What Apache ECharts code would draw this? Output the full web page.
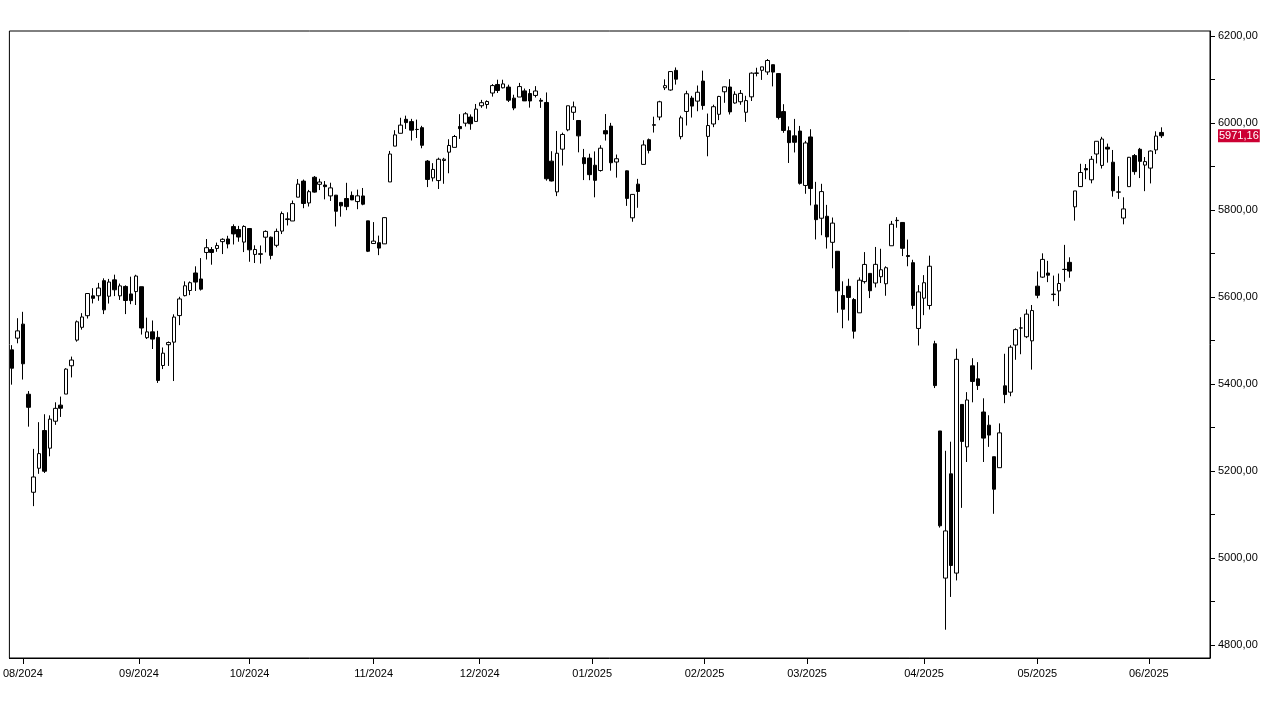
<!DOCTYPE html>
<html>
<head>
<meta charset="utf-8">
<script src="https://cdn.jsdelivr.net/npm/echarts@6/dist/echarts.min.js"></script>
<style>
html,body{margin:0;padding:0;background:#fff;}
#chart{width:1288px;height:708px;}
</style>
</head>
<body>
<div id="chart"></div>
<script>
// Trading-day slots (the source keeps an empty slot for 2025-01-09)
const dates = [
'2024-07-30','2024-07-31',
'2024-08-01','2024-08-02','2024-08-05','2024-08-06','2024-08-07','2024-08-08','2024-08-09','2024-08-12','2024-08-13','2024-08-14','2024-08-15','2024-08-16','2024-08-19','2024-08-20','2024-08-21','2024-08-22','2024-08-23','2024-08-26','2024-08-27','2024-08-28','2024-08-29','2024-08-30',
'2024-09-03','2024-09-04','2024-09-05','2024-09-06','2024-09-09','2024-09-10','2024-09-11','2024-09-12','2024-09-13','2024-09-16','2024-09-17','2024-09-18','2024-09-19','2024-09-20','2024-09-23','2024-09-24','2024-09-25','2024-09-26','2024-09-27','2024-09-30',
'2024-10-01','2024-10-02','2024-10-03','2024-10-04','2024-10-07','2024-10-08','2024-10-09','2024-10-10','2024-10-11','2024-10-14','2024-10-15','2024-10-16','2024-10-17','2024-10-18','2024-10-21','2024-10-22','2024-10-23','2024-10-24','2024-10-25','2024-10-28','2024-10-29','2024-10-30','2024-10-31',
'2024-11-01','2024-11-04','2024-11-05','2024-11-06','2024-11-07','2024-11-08','2024-11-11','2024-11-12','2024-11-13','2024-11-14','2024-11-15','2024-11-18','2024-11-19','2024-11-20','2024-11-21','2024-11-22','2024-11-25','2024-11-26','2024-11-27','2024-11-29',
'2024-12-02','2024-12-03','2024-12-04','2024-12-05','2024-12-06','2024-12-09','2024-12-10','2024-12-11','2024-12-12','2024-12-13','2024-12-16','2024-12-17','2024-12-18','2024-12-19','2024-12-20','2024-12-23','2024-12-24','2024-12-26','2024-12-27','2024-12-30','2024-12-31',
'2025-01-02','2025-01-03','2025-01-06','2025-01-07','2025-01-08','2025-01-09','2025-01-10','2025-01-13','2025-01-14','2025-01-15','2025-01-16','2025-01-17','2025-01-21','2025-01-22','2025-01-23','2025-01-24','2025-01-27','2025-01-28','2025-01-29','2025-01-30','2025-01-31',
'2025-02-03','2025-02-04','2025-02-05','2025-02-06','2025-02-07','2025-02-10','2025-02-11','2025-02-12','2025-02-13','2025-02-14','2025-02-18','2025-02-19','2025-02-20','2025-02-21','2025-02-24','2025-02-25','2025-02-26','2025-02-27','2025-02-28',
'2025-03-03','2025-03-04','2025-03-05','2025-03-06','2025-03-07','2025-03-10','2025-03-11','2025-03-12','2025-03-13','2025-03-14','2025-03-17','2025-03-18','2025-03-19','2025-03-20','2025-03-21','2025-03-24','2025-03-25','2025-03-26','2025-03-27','2025-03-28','2025-03-31',
'2025-04-01','2025-04-02','2025-04-03','2025-04-04','2025-04-07','2025-04-08','2025-04-09','2025-04-10','2025-04-11','2025-04-14','2025-04-15','2025-04-16','2025-04-17','2025-04-21','2025-04-22','2025-04-23','2025-04-24','2025-04-25','2025-04-28','2025-04-29','2025-04-30',
'2025-05-01','2025-05-02','2025-05-05','2025-05-06','2025-05-07','2025-05-08','2025-05-09','2025-05-12','2025-05-13','2025-05-14','2025-05-15','2025-05-16','2025-05-19','2025-05-20','2025-05-21','2025-05-22','2025-05-23','2025-05-27','2025-05-28','2025-05-29','2025-05-30',
'2025-06-02','2025-06-03','2025-06-04'
];

// [open, high, low, close] per slot, null = empty slot
const ohlc = [
[5478.73,5489.46,5398.63,5436.44],[5505.59,5551.51,5493.75,5522.30],
// Aug 2024
[5537.84,5566.16,5410.42,5446.68],[5376.63,5383.89,5302.03,5346.56],[5151.14,5250.89,5119.26,5186.33],[5206.42,5312.34,5193.56,5240.03],
[5293.13,5330.64,5195.54,5199.50],[5252.57,5328.03,5233.85,5319.31],[5314.56,5358.09,5306.20,5344.16],[5351.56,5371.20,5324.37,5344.39],
[5376.98,5436.50,5376.98,5434.43],[5442.07,5463.22,5415.30,5455.21],[5501.13,5546.23,5497.52,5543.22],[5530.50,5563.06,5525.23,5554.25],
[5557.23,5608.30,5550.74,5608.25],[5602.88,5620.51,5585.50,5597.12],[5603.09,5632.68,5591.57,5620.85],[5637.77,5643.22,5560.95,5570.64],
[5602.04,5641.82,5585.16,5634.61],[5639.66,5651.62,5602.34,5616.84],[5602.89,5631.18,5593.48,5625.80],[5624.51,5627.03,5560.95,5592.18],
[5607.30,5646.95,5583.71,5591.96],[5612.74,5651.37,5581.79,5648.40],
// Sep 2024
[5623.89,5623.89,5513.84,5528.93],[5506.68,5552.74,5503.65,5520.07],[5520.08,5546.30,5480.65,5503.41],[5507.33,5522.47,5402.62,5408.42],
[5442.72,5484.20,5434.49,5471.05],[5490.51,5497.91,5441.72,5495.52],[5496.42,5560.41,5406.96,5554.13],[5557.48,5600.71,5535.50,5595.76],
[5603.34,5636.27,5601.65,5626.02],[5615.21,5636.05,5604.53,5633.09],[5655.51,5670.81,5614.05,5634.58],[5641.68,5689.75,5615.08,5618.26],
[5702.63,5733.57,5686.42,5713.64],[5709.39,5715.14,5674.49,5702.55],[5711.90,5725.36,5704.22,5718.57],[5727.61,5735.32,5698.99,5732.93],
[5733.65,5741.03,5712.06,5722.26],[5762.22,5767.37,5721.01,5745.37],[5755.36,5763.78,5727.34,5738.17],[5726.52,5765.14,5703.53,5762.48],
// Oct 2024
[5757.73,5757.73,5681.28,5708.75],[5698.14,5719.14,5678.37,5709.54],[5698.19,5718.78,5677.04,5699.94],[5737.80,5753.52,5702.83,5751.07],
[5737.80,5739.34,5686.85,5695.94],[5719.14,5757.60,5714.56,5751.13],[5751.80,5796.80,5745.02,5792.04],[5778.36,5795.03,5764.76,5780.05],
[5775.09,5822.13,5775.09,5815.03],[5829.81,5871.41,5829.81,5859.85],[5866.74,5870.36,5804.48,5815.26],[5816.58,5846.52,5808.34,5842.47],
[5875.62,5878.46,5840.25,5841.47],[5859.43,5872.17,5846.11,5864.67],[5857.82,5866.92,5824.81,5853.98],[5832.70,5863.04,5821.17,5851.20],
[5834.50,5834.85,5762.41,5797.42],[5817.80,5817.80,5784.92,5809.86],[5826.75,5862.82,5799.98,5808.12],[5833.93,5842.92,5823.08,5823.52],
[5819.68,5847.19,5802.17,5832.92],[5832.65,5850.94,5811.28,5813.67],[5775.34,5775.34,5703.62,5705.45],
// Nov 2024
[5723.22,5772.52,5723.22,5728.80],[5725.15,5741.43,5696.51,5712.69],[5722.43,5783.44,5722.10,5782.76],[5864.89,5936.14,5864.89,5929.04],
[5947.21,5983.84,5947.21,5973.10],[5976.76,6012.45,5976.76,5995.54],[6008.86,6017.31,5986.69,6001.35],[6003.60,6009.92,5960.08,5983.99],
[5985.75,6008.19,5965.91,5985.38],[5989.68,5993.88,5942.28,5949.17],[5912.79,5915.28,5853.01,5870.62],[5874.17,5908.12,5865.95,5893.62],
[5868.00,5920.67,5848.64,5916.98],[5914.13,5920.35,5860.65,5917.11],[5933.29,5963.06,5884.80,5948.71],[5944.36,5972.90,5944.36,5969.34],
[5992.28,6020.75,5963.91,5987.37],[6000.03,6025.42,5992.27,6021.63],[6014.11,6020.16,5984.87,5998.74],[6003.98,6044.17,6003.98,6032.38],
// Dec 2024
[6040.11,6053.58,6035.33,6047.15],[6042.97,6052.45,6033.39,6049.88],[6069.39,6089.84,6061.06,6086.49],[6089.03,6099.97,6069.43,6075.11],
[6081.38,6099.97,6079.98,6090.27],[6083.01,6088.51,6048.63,6052.85],[6057.60,6065.40,6029.89,6034.91],[6060.15,6092.59,6060.15,6084.19],
[6074.29,6079.68,6051.25,6051.25],[6068.17,6078.58,6035.77,6051.09],[6063.79,6085.19,6059.14,6074.08],[6052.55,6057.68,6035.19,6050.61],
[6047.65,6070.67,5867.79,5872.16],[5912.71,5935.52,5866.07,5867.08],[5842.00,5982.06,5832.30,5930.85],[5940.25,5978.25,5902.57,5974.07],
[5984.63,6040.10,5981.44,6040.04],[6024.97,6049.75,6007.37,6037.59],[6006.17,6006.17,5932.95,5970.84],[5920.67,5940.79,5869.16,5906.94],
[5919.74,5929.74,5868.86,5881.63],
// Jan 2025
[5903.26,5935.09,5829.53,5868.55],[5891.07,5949.34,5888.66,5942.47],[5982.81,6021.04,5960.01,5975.38],[5993.26,6000.68,5890.68,5909.03],
[5910.66,5927.89,5874.78,5918.25],null,[5890.41,5891.00,5809.80,5827.04],[5782.35,5836.50,5773.31,5836.22],
[5859.79,5871.92,5805.44,5842.91],[5905.21,5960.61,5905.21,5949.91],[5962.00,5964.69,5930.43,5937.34],[5995.13,6014.96,5978.44,5996.66],
[6014.12,6051.51,6006.88,6049.24],[6081.39,6100.81,6076.19,6086.37],[6076.32,6118.73,6074.67,6118.71],[6121.43,6128.18,6088.74,6101.24],
[5969.04,6017.17,5962.92,6012.28],[6026.97,6074.54,5994.63,6067.70],[6057.70,6062.83,6012.96,6039.31],[6050.75,6086.64,6027.46,6071.17],
[6096.79,6120.91,6030.93,6040.53],
// Feb 2025
[5969.65,6022.13,5923.93,5994.57],[5998.14,6042.48,5990.87,6037.88],[6020.45,6062.86,6007.06,6061.48],[6072.22,6084.03,6046.83,6083.57],
[6083.13,6101.28,6019.96,6025.99],[6046.40,6073.38,6044.84,6066.44],[6049.32,6076.28,6042.34,6068.50],[6025.08,6063.00,6003.00,6051.97],
[6060.59,6116.91,6051.00,6115.07],[6115.52,6127.47,6107.62,6114.63],[6121.60,6129.63,6099.51,6129.58],[6117.76,6147.43,6111.15,6144.15],
[6134.50,6134.50,6084.59,6117.52],[6114.10,6114.82,6008.56,6013.13],[6026.69,6043.65,5977.83,5983.25],[5982.73,5992.65,5908.49,5955.25],
[5970.87,6009.82,5932.69,5956.06],[5981.88,5993.69,5858.78,5861.57],[5856.74,5959.40,5837.66,5954.50],
// Mar 2025
[5968.33,5986.09,5810.91,5849.72],[5811.98,5865.08,5732.59,5778.15],[5781.41,5860.59,5742.35,5842.63],[5785.87,5812.08,5711.64,5738.52],
[5726.01,5783.01,5666.29,5770.20],[5705.37,5705.37,5564.02,5614.56],[5603.65,5636.30,5528.41,5572.07],[5624.84,5642.19,5546.09,5599.30],
[5594.45,5597.78,5504.65,5521.52],[5563.85,5645.27,5563.85,5638.94],[5635.60,5703.52,5631.12,5675.12],[5654.53,5654.53,5597.76,5614.66],
[5632.37,5715.33,5622.20,5675.29],[5646.92,5711.15,5632.33,5662.89],[5630.73,5670.84,5603.10,5667.56],[5718.08,5775.14,5718.08,5767.57],
[5775.86,5783.88,5759.54,5776.65],[5771.66,5771.66,5694.41,5712.20],[5695.64,5732.28,5670.94,5693.31],[5679.19,5685.89,5572.42,5580.94],
[5527.91,5627.56,5488.73,5611.85],
// Apr 2025
[5597.53,5650.57,5558.52,5633.07],[5580.76,5695.31,5571.48,5670.97],[5492.74,5499.53,5390.83,5396.52],[5292.14,5292.14,5069.90,5074.08],
[4953.79,5246.57,4835.04,5062.25],[5193.57,5267.47,4910.42,4982.77],[4965.28,5481.34,4948.43,5456.90],[5353.15,5353.15,5115.27,5268.05],
[5255.56,5381.46,5220.77,5363.36],[5441.96,5459.46,5358.02,5405.97],[5411.99,5450.41,5386.44,5396.63],[5335.75,5367.24,5220.79,5275.70],
[5305.45,5328.31,5255.58,5282.70],[5232.94,5232.94,5101.63,5158.20],[5207.67,5309.60,5207.67,5287.76],[5395.92,5469.69,5356.04,5375.86],
[5381.38,5489.40,5371.96,5484.77],[5489.73,5528.11,5455.86,5525.21],[5529.22,5553.66,5468.64,5528.75],[5508.87,5571.95,5505.70,5560.83],
[5499.44,5581.84,5433.24,5569.06],
// May 2025
[5625.14,5658.91,5597.35,5604.14],[5645.94,5700.70,5644.09,5686.67],[5655.32,5683.37,5634.48,5650.38],[5605.88,5649.48,5590.63,5606.91],
[5614.36,5654.15,5579.35,5631.28],[5663.45,5720.10,5635.56,5663.94],[5679.96,5691.54,5644.54,5659.91],[5807.60,5844.19,5775.90,5844.19],
[5854.18,5906.63,5853.23,5886.55],[5895.69,5906.00,5871.20,5892.58],[5869.75,5924.53,5861.67,5916.93],[5929.09,5958.62,5907.45,5958.38],
[5902.88,5968.61,5895.69,5963.60],[5944.66,5953.06,5909.26,5940.46],[5910.23,5938.37,5830.91,5844.61],[5841.26,5878.08,5825.82,5842.01],
[5781.89,5829.51,5767.41,5802.82],[5854.07,5922.32,5854.07,5921.54],[5925.49,5929.00,5881.37,5888.55],[5939.94,5943.13,5873.80,5912.17],
[5903.67,5922.14,5843.66,5911.69],
// Jun 2025
[5896.68,5937.40,5861.43,5935.94],[5938.56,5981.35,5929.00,5970.37],[5978.72,5990.48,5966.11,5971.16]
];

const monthStarts = ['2024-08-01','2024-09-01','2024-10-01','2024-11-01','2024-12-01','2025-01-01','2025-02-01','2025-03-01','2025-04-01','2025-05-01','2025-06-01'];
const yTickValues = [4800,4900,5000,5100,5200,5300,5400,5500,5600,5700,5800,5900,6000,6100,6200];
const yLabelValues = [4800,5000,5200,5400,5600,5800,6000,6200];
const slotCount = 222;

const FONT = '"Liberation Sans", Arial, Helvetica, sans-serif';

function dayNum(s) {
  return Date.UTC(+s.slice(0, 4), +s.slice(5, 7) - 1, +s.slice(8, 10)) / 86400000;
}
const dn = dates.map(dayNum);

// month tick position: calendar interpolation between trading slots
const monthPos = [];
const monthText = [];
monthStarts.forEach(function (m) {
  const t = dayNum(m);
  let pos = null;
  for (let i = 0; i < dn.length; i++) {
    if (dn[i] === t) { pos = i; break; }
    if (i < dn.length - 1 && dn[i] < t && dn[i + 1] > t) {
      pos = i + (t - dn[i]) / (dn[i + 1] - dn[i]);
      break;
    }
  }
  if (pos !== null) {
    monthPos.push(pos);
    monthText.push(m.slice(5, 7) + '/' + m.slice(0, 4));
  }
});

const candleData = [];
ohlc.forEach(function (r, i) {
  if (r) candleData.push([i, r[0], r[3], r[2], r[1]]);
});
let lastPrice = null;
for (let i = ohlc.length - 1; i >= 0; i--) { if (ohlc[i]) { lastPrice = ohlc[i][3]; break; } }

function fmt2(v) { return v.toFixed(2).replace('.', ','); }

const chart = echarts.init(document.getElementById('chart'), null, { renderer: 'canvas' });
chart.setOption({
  animation: false,
  backgroundColor: '#fff',
  grid: {
    left: 7, right: 78, top: 31, bottom: 50,
    show: true, borderColor: '#000', borderWidth: 1, backgroundColor: '#fff'
  },
  xAxis: {
    type: 'value',
    min: -0.5,
    max: slotCount,
    position: 'bottom',
    splitLine: { show: false },
    axisLine: { show: true, onZero: false, lineStyle: { color: '#000', width: 1 } },
    axisTick: { show: true, customValues: monthPos, length: 6, lineStyle: { color: '#000', width: 1 } },
    axisLabel: {
      show: true,
      customValues: monthPos,
      formatter: function (v) {
        let best = 0, bd = Infinity;
        monthPos.forEach(function (p, k) { const d = Math.abs(p - v); if (d < bd) { bd = d; best = k; } });
        return monthText[best];
      },
      color: '#000', fontSize: 11, fontFamily: FONT, margin: 10
    }
  },
  yAxis: {
    type: 'value',
    position: 'right',
    min: 4770,
    max: 6212,
    splitLine: { show: false },
    axisLine: { show: true, onZero: false, lineStyle: { color: '#000', width: 1 } },
    axisTick: { show: true, customValues: yTickValues, length: 5, lineStyle: { color: '#000', width: 1 } },
    axisLabel: {
      show: true,
      customValues: yLabelValues,
      formatter: function (v) { return fmt2(v); },
      color: '#000', fontSize: 11, fontFamily: FONT, margin: 8
    }
  },
  series: [{
    type: 'candlestick',
    data: candleData,
    encode: { x: 0, y: [1, 2, 3, 4] },
    barWidth: 4,
    itemStyle: {
      color: '#ffffff', color0: '#000000',
      borderColor: '#000000', borderColor0: '#000000', borderColorDoji: '#000000',
      borderWidth: 1
    },
    emphasis: { disabled: true },
    markLine: {
      silent: true,
      animation: false,
      symbol: ['none', 'none'],
      lineStyle: { color: 'rgba(0,0,0,0)', width: 0 },
      label: {
        show: true,
        position: 'end',
        distance: 8,
        formatter: function () { return fmt2(lastPrice); },
        backgroundColor: '#cc0033',
        color: '#ffffff',
        fontSize: 11,
        fontFamily: FONT,
        padding: [1, 1, 0, 1],
        lineHeight: 12
      },
      data: [{ yAxis: lastPrice }]
    }
  }]
});
</script>
</body>
</html>
